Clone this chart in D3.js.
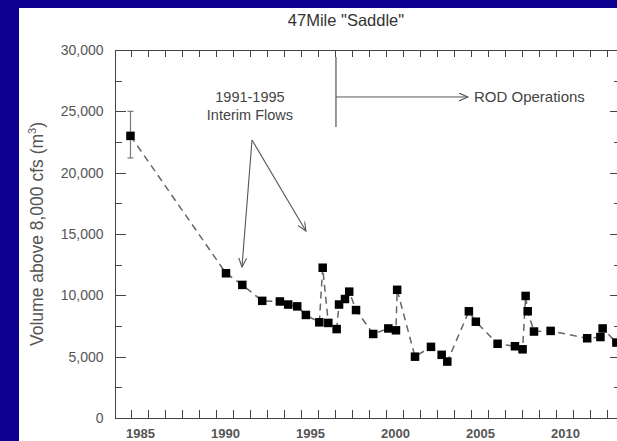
<!DOCTYPE html>
<meta charset="utf-8">
<head>
    <title>47Mile Saddle</title>
    <script src="https://d3js.org/d3.v7.min.js"></script>
</head>

<style>
body { margin: 0; background: #0b0090; }
svg { display: block; font-family: "Liberation Sans", Arial, sans-serif; }
.axis path, .axis line { stroke: #444; shape-rendering: crispEdges; }
.axis text { fill: #555; }
</style>

<body>

<svg></svg>

<script>

// survey dates (decimal years) and sand volume above 8,000 cfs
let years = [1984.44, 1990.06, 1991.02, 1992.19, 1993.23, 1993.72, 1994.25, 1994.76,
  1995.55, 1995.75, 1996.08, 1996.57, 1996.71, 1997.06, 1997.31, 1997.71, 1998.72,
  1999.61, 2000.06, 2000.13, 2001.18, 2002.12, 2002.75, 2003.08, 2004.35, 2004.76,
  2006.04, 2007.06, 2007.51, 2007.69, 2007.81, 2008.18, 2009.16, 2011.31, 2012.09,
  2012.22, 2013.03];
let volumes = [23000, 11800, 10850, 9550, 9500, 9250, 9100, 8400,
  7800, 12250, 7750, 7250, 9250, 9700, 10300, 8800, 6850,
  7300, 7150, 10450, 5000, 5800, 5150, 4600, 8700, 7850,
  6050, 5850, 5600, 9950, 8700, 7050, 7100, 6500, 6600,
  7300, 6150];

// error bar on the first survey
let errYear = 1984.44;
let errLow = 21200;
let errHigh = 25000;

let yMajor = [0, 5000, 10000, 15000, 20000, 25000, 30000];
let yMinor = [2500, 7500, 12500, 17500, 22500, 27500];
let xLabels = [1985, 1990, 1995, 2000, 2005, 2010];
let xMinor = d3.range(1984.5, 2013, 1);

let width = 617, height = 441;

let x = d3.scaleLinear().domain([1983.5, 2013.3]).range([114.5, 621]);
let y = d3.scaleLinear().domain([0, 30000]).range([418, 50]);

let svg = d3.select("svg")
    .attr("width", width)
    .attr("height", height);

// white panel on blue slide
svg.append("rect")
  .attr("x", 19).attr("y", 8)
  .attr("width", width - 19).attr("height", height - 8)
  .attr("fill", "#ffffff");

// arrow heads
let defs = svg.append("defs");
defs.append("marker")
  .attr("id", "arrow")
  .attr("markerUnits", "userSpaceOnUse")
  .attr("markerWidth", 12).attr("markerHeight", 12)
  .attr("refX", 9).attr("refY", 4)
  .attr("orient", "auto")
  .append("path")
  .attr("d", "M0,0 L9,4 L0,8")
  .attr("fill", "none")
  .attr("stroke", "#555")
  .attr("stroke-width", 1.1);

// title
svg.append("text")
  .attr("x", 346).attr("y", 26)
  .attr("text-anchor", "middle")
  .attr("font-size", 16.5)
  .attr("fill", "#333")
  .text('47Mile "Saddle"');

// axes
svg.append("g").attr("class", "axis")
  .attr("transform", "translate(0," + y(0) + ")")
  .call(d3.axisBottom(x).tickValues(xMinor).tickSize(-8).tickSizeOuter(0).tickFormat(""));

svg.append("g").attr("class", "axis")
  .attr("transform", "translate(0," + y(0) + ")")
  .call(d3.axisBottom(x).tickValues(xLabels).tickSize(0).tickPadding(10.5).tickFormat(d3.format("d")))
  .call(g => g.select(".domain").remove())
  .selectAll("text")
  .attr("font-size", 13)
  .attr("font-weight", "bold")
  .attr("fill", "#222");

svg.append("g").attr("class", "axis")
  .attr("transform", "translate(0," + y(30000) + ")")
  .call(d3.axisTop(x).tickValues(xMinor).tickSize(-7).tickSizeOuter(0).tickFormat(""));

svg.append("g").attr("class", "axis")
  .attr("transform", "translate(" + x(1983.5) + ",0)")
  .call(d3.axisLeft(y).tickValues(yMinor).tickSize(-7).tickSizeOuter(0).tickFormat(""));

svg.append("g").attr("class", "axis")
  .attr("transform", "translate(" + x(1983.5) + ",0)")
  .call(d3.axisLeft(y).tickValues(yMajor).tickSize(-11).tickSizeOuter(0).tickPadding(11).tickFormat(d3.format(",")))
  .selectAll("text")
  .attr("font-size", 14)
  .attr("fill", "#666");

svg.append("g").attr("class", "axis")
  .attr("transform", "translate(" + x(2013.3) + ",0)")
  .call(d3.axisRight(y).tickValues(yMinor).tickSize(-7).tickSizeOuter(0).tickFormat(""));

svg.append("g").attr("class", "axis")
  .attr("transform", "translate(" + x(2013.3) + ",0)")
  .call(d3.axisRight(y).tickValues(yMajor).tickSize(-11).tickSizeOuter(0).tickFormat(""));

// y axis title
let yt = svg.append("text")
  .attr("transform", "translate(43," + 234 + ") rotate(-90)")
  .attr("text-anchor", "middle")
  .attr("font-size", 17.5)
  .attr("fill", "#555");
yt.append("tspan").text("Volume above 8,000 cfs (m");
yt.append("tspan").attr("dy", -7).attr("font-size", 11).text("3");
yt.append("tspan").attr("dy", 7).text(")");

// annotations
let rodX = 1996.53;
svg.append("line")
  .attr("x1", x(rodX)).attr("x2", x(rodX))
  .attr("y1", y(29430)).attr("y2", y(23720))
  .attr("stroke", "#555").attr("stroke-width", 1.2);
svg.append("line")
  .attr("x1", x(rodX)).attr("x2", x(2004.29))
  .attr("y1", y(26170)).attr("y2", y(26170))
  .attr("stroke", "#555").attr("stroke-width", 1)
  .attr("marker-end", "url(#arrow)");
svg.append("text")
  .attr("x", x(2004.65)).attr("y", y(26170))
  .attr("dy", "0.35em")
  .attr("font-size", 15)
  .attr("fill", "#444")
  .text("ROD Operations");

svg.append("text")
  .attr("x", x(1991.47)).attr("y", y(26170))
  .attr("dy", "0.35em")
  .attr("text-anchor", "middle")
  .attr("font-size", 14.5)
  .attr("fill", "#444")
  .text("1991-1995");
svg.append("text")
  .attr("x", x(1991.47)).attr("y", y(24700))
  .attr("dy", "0.35em")
  .attr("text-anchor", "middle")
  .attr("font-size", 14.5)
  .attr("fill", "#444")
  .text("Interim Flows");

let apex = [1991.59, 22660];
[[1991.0, 12310], [1994.76, 15240]].forEach(function(t) {
  svg.append("line")
    .attr("x1", x(apex[0])).attr("y1", y(apex[1]))
    .attr("x2", x(t[0])).attr("y2", y(t[1]))
    .attr("stroke", "#555").attr("stroke-width", 1.1)
    .attr("marker-end", "url(#arrow)");
});

// error bar
let capW = 3;
svg.append("line")
  .attr("x1", x(errYear)).attr("x2", x(errYear))
  .attr("y1", y(errLow)).attr("y2", y(errHigh))
  .attr("stroke", "#777").attr("stroke-width", 1.2);
[errLow, errHigh].forEach(function(v) {
  svg.append("line")
    .attr("x1", x(errYear) - capW).attr("x2", x(errYear) + capW)
    .attr("y1", y(v)).attr("y2", y(v))
    .attr("stroke", "#777").attr("stroke-width", 1.2);
});

// dashed series line
let data = years.map(function(d, i) { return [d, volumes[i]]; });

svg.append("path")
  .datum(data)
  .attr("fill", "none")
  .attr("stroke", "#666")
  .attr("stroke-width", 1.5)
  .attr("stroke-dasharray", "7,5")
  .attr("d", d3.line().x(function(d) { return x(d[0]); }).y(function(d) { return y(d[1]); }));

// square markers
let size = 8.5;
svg.selectAll(".pt")
  .data(data)
  .enter()
  .append("rect")
  .attr("class", "pt")
  .attr("x", function(d) { return x(d[0]) - size / 2; })
  .attr("y", function(d) { return y(d[1]) - size / 2; })
  .attr("width", size)
  .attr("height", size)
  .attr("fill", "#000");

</script>

</body>
